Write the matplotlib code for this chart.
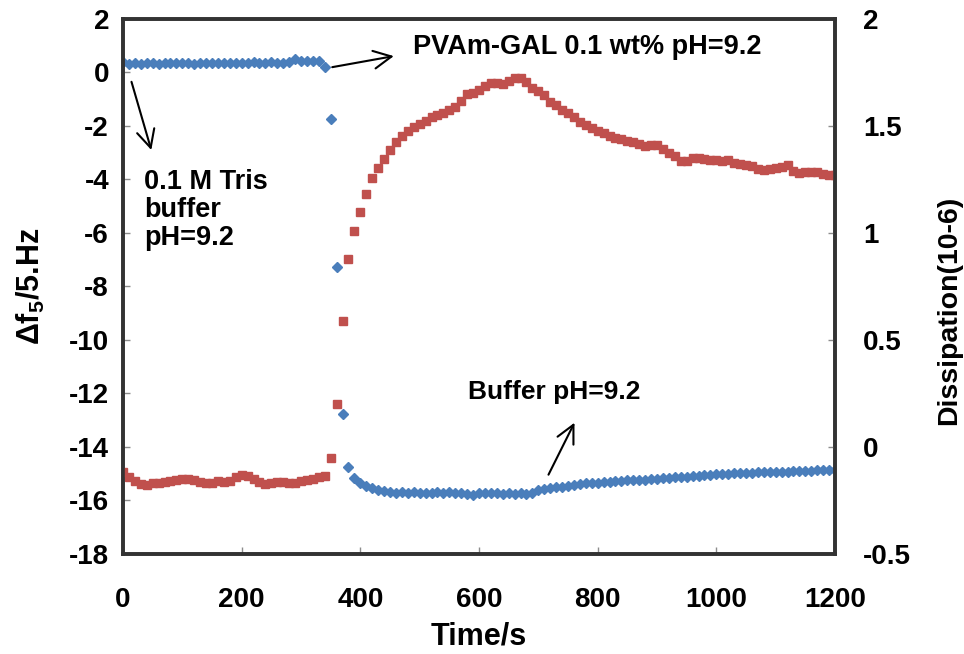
import matplotlib
matplotlib.use("Agg")
import matplotlib.pyplot as plt

plt.rcParams.update({
    "font.family": ["Liberation Sans", "DejaVu Sans"],
    "font.weight": "bold",
    "axes.unicode_minus": False,
    "mathtext.fontset": "custom",
    "mathtext.rm": "Liberation Sans:bold",
    "mathtext.bf": "Liberation Sans:bold",
    "mathtext.it": "Liberation Sans:bold",
})

# QCM-D trace, one reading every 10 s
time_s = list(range(0, 1201, 10))

# frequency shift, left axis (Hz)
freq = [
    0.38, 0.33, 0.35, 0.33, 0.36, 0.34, 0.33, 0.35, 0.34, 0.36,
    0.34, 0.35, 0.33, 0.35, 0.34, 0.36, 0.35, 0.34, 0.36, 0.35,
    0.37, 0.36, 0.38, 0.36, 0.37, 0.39, 0.37, 0.36, 0.40, 0.50,
    0.43, 0.44, 0.41, 0.42, 0.20, -1.73, -7.26, -12.77, -14.76, -15.17,
    -15.34, -15.45, -15.52, -15.60, -15.66, -15.70, -15.72, -15.70, -15.72, -15.70,
    -15.72, -15.71, -15.73, -15.70, -15.72, -15.70, -15.71, -15.73, -15.76, -15.78,
    -15.74, -15.72, -15.74, -15.73, -15.75, -15.74, -15.76, -15.74, -15.76, -15.72,
    -15.62, -15.57, -15.54, -15.50, -15.48, -15.45, -15.42, -15.38, -15.36, -15.35,
    -15.33, -15.31, -15.30, -15.29, -15.27, -15.25, -15.24, -15.23, -15.22, -15.20,
    -15.18, -15.17, -15.15, -15.14, -15.12, -15.11, -15.09, -15.07, -15.06, -15.04,
    -15.03, -15.02, -15.00, -14.99, -14.98, -14.97, -14.96, -14.95, -14.94, -14.93,
    -14.93, -14.92, -14.92, -14.91, -14.90, -14.90, -14.89, -14.88, -14.88, -14.87,
    -14.86,
]

# dissipation, right axis (1e-6)
diss = [
    -0.118, -0.142, -0.158, -0.172, -0.178, -0.170, -0.168, -0.163, -0.158, -0.156,
    -0.152, -0.148, -0.156, -0.163, -0.168, -0.170, -0.160, -0.165, -0.158, -0.142,
    -0.130, -0.135, -0.150, -0.162, -0.172, -0.168, -0.163, -0.163, -0.168, -0.168,
    -0.160, -0.155, -0.150, -0.140, -0.135, -0.050, 0.200, 0.590, 0.880, 1.010,
    1.100, 1.180, 1.256, 1.305, 1.347, 1.388, 1.427, 1.453, 1.478, 1.497,
    1.509, 1.525, 1.541, 1.551, 1.562, 1.575, 1.590, 1.615, 1.650, 1.656,
    1.668, 1.688, 1.700, 1.702, 1.696, 1.712, 1.723, 1.723, 1.707, 1.676,
    1.665, 1.645, 1.614, 1.598, 1.575, 1.560, 1.543, 1.520, 1.505, 1.490,
    1.475, 1.468, 1.455, 1.445, 1.440, 1.432, 1.427, 1.418, 1.405, 1.410,
    1.411, 1.390, 1.372, 1.360, 1.338, 1.335, 1.349, 1.348, 1.345, 1.343,
    1.342, 1.338, 1.340, 1.328, 1.322, 1.318, 1.314, 1.300, 1.294, 1.297,
    1.302, 1.310, 1.318, 1.290, 1.278, 1.283, 1.286, 1.283, 1.276, 1.273,
    1.271,
]

fig = plt.figure(figsize=(9.64, 6.54), dpi=100)
ax = fig.add_axes([0.1276, 0.153, 0.7386, 0.818])
ax2 = ax.twinx()

ax.plot(time_s, freq, ls="none", marker="D", ms=5.5, color="#4a7ebb", mec="#4a7ebb")
ax2.plot(time_s, diss, ls="none", marker="s", ms=5.4, color="#c0504d", mec="#c0504d")

ax.set_xlim(0, 1200)
ax.set_ylim(-18, 2)
ax.set_xticks(range(0, 1201, 200))
ax.set_yticks(range(-18, 3, 2))
ax2.set_ylim(-0.5, 2)
ax2.set_yticks([-0.5, 0, 0.5, 1, 1.5, 2])
ax2.set_yticklabels(["-0.5", "0", "0.5", "1", "1.5", "2"])

for a in (ax, ax2):
    for s in a.spines.values():
        s.set_linewidth(2.6)
        s.set_color("#333333")
ax.tick_params(axis="both", direction="in", length=5, width=1, color="#8c8c8c",
               labelsize=20)
ax.tick_params(axis="x", pad=24)
ax.tick_params(axis="y", pad=10)
ax2.tick_params(axis="y", direction="in", length=5, width=1, color="#8c8c8c",
                labelsize=20, pad=20)

ax.set_xlabel("Time/s", fontsize=22, fontweight="bold", labelpad=6)
ax.set_ylabel("Δf$_{5}$/5.Hz", fontsize=22, fontweight="bold")
ax.yaxis.set_label_coords(-0.107, 0.5)
ax2.set_ylabel("Dissipation(10-6)", fontsize=20.5, fontweight="bold")
ax2.yaxis.set_label_coords(1.142, 0.455)

arrow = dict(arrowstyle="->", color="black", lw=1.5, mutation_scale=32)
ax.annotate("", xy=(461, 0.63), xytext=(348, 0.18), arrowprops=arrow)
ax.annotate("", xy=(49, -3.0), xytext=(13, -0.25), arrowprops=arrow)
ax.annotate("", xy=(763, -13.0), xytext=(715, -15.13), arrowprops=arrow)

ax.text(488, 0.95, "PVAm-GAL 0.1 wt% pH=9.2", fontsize=19.5, fontweight="bold",
        va="center", ha="left")
ax.text(35, -3.6, "0.1 M Tris\nbuffer\npH=9.2", fontsize=19.5, fontweight="bold",
        va="top", ha="left", linespacing=1.1)
ax.text(581, -11.94, "Buffer pH=9.2", fontsize=19, fontweight="bold",
        va="center", ha="left")

fig.savefig("out.png", dpi=100)
